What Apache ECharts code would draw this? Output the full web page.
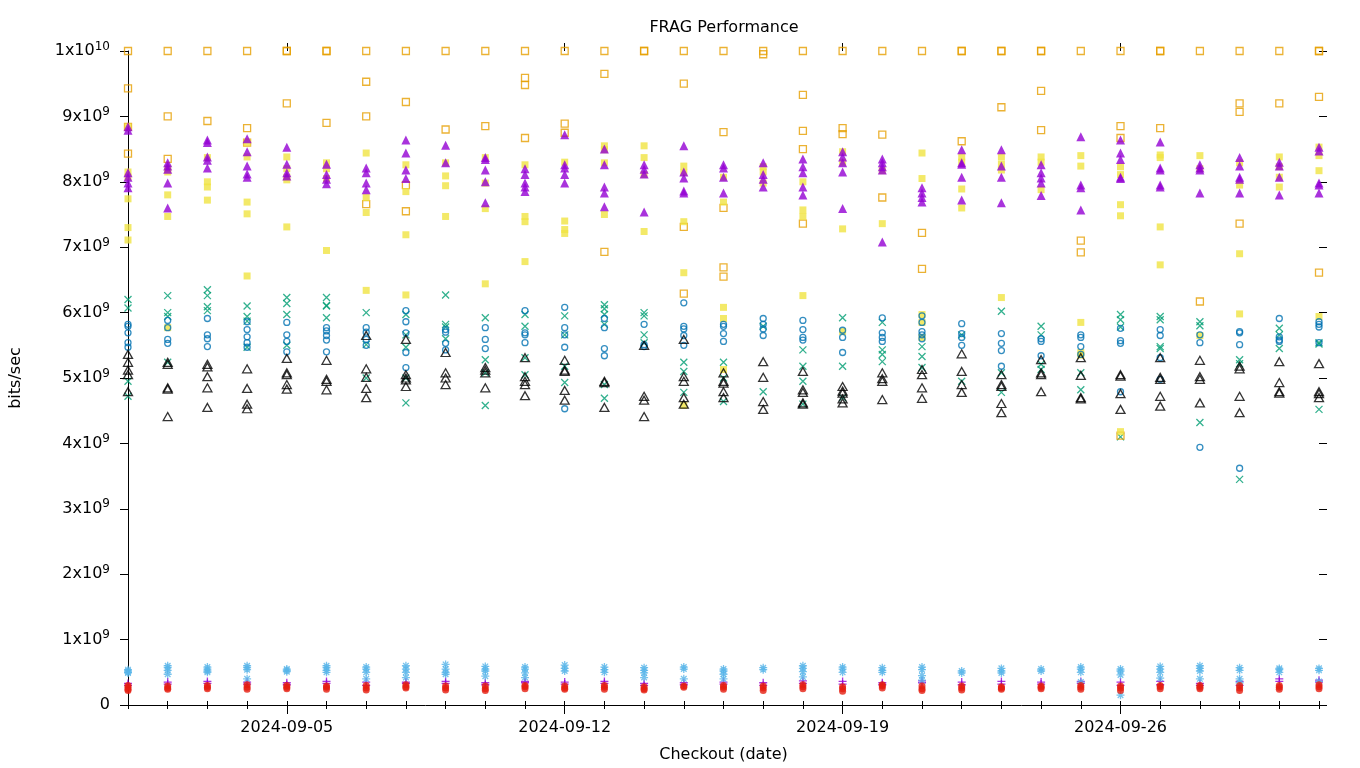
<!DOCTYPE html>
<html>
<head>
<meta charset="utf-8">
<script src="https://cdn.jsdelivr.net/npm/echarts@6/dist/echarts.min.js"></script>
<style>html,body{margin:0;padding:0;background:#fff}#c{width:1360px;height:768px}</style>
</head>
<body>
<div id="c"></div>
<script>
// x = day index from 2024-09-01 (0) to 2024-10-01 (30); values in units of 1e9 bits/sec
const tickDays = [4, 11, 18, 25];
const tickLabels = ['2024-09-05', '2024-09-12', '2024-09-19', '2024-09-26'];
const yTickValues = [0,1,2,3,4,5,6,7,8,9,10];

// purple "+"
const plusVals = [
[0.33,0.3],[0.35,0.32],[0.36,0.33],[0.35,0.32],[0.34,0.31],[0.36,0.33],[0.35,0.3],[0.35,0.33],[0.36,0.33],[0.34,0.31],
[0.36,0.34],[0.35,0.32],[0.36,0.33],[0.33,0.3],[0.34,0.31],[0.35,0.32],[0.34,0.3],[0.37,0.33],[0.36,0.32],[0.34,0.31],
[0.37,0.34],[0.35,0.31],[0.36,0.32],[0.35,0.32],[0.36,0.33],[0.35,0.3],[0.36,0.31],[0.33,0.3],[0.36,0.3],[0.4,0.36],[0.38,0.35]
];
// green "x"
const crossVals = [
[6.2,6.07,4.95,4.72],[6.26,6.0,5.94,5.24],[6.35,6.26,6.09,6.03],[6.1,5.94,5.87,5.47],[6.23,6.14,5.97,5.5],
[6.23,6.11,6.1,5.92],[6.0,5.51,5.0],[5.97,5.66,5.47,5.0,4.62],[6.27,5.82,5.78,5.6],[5.92,5.28,5.08,4.58],
[5.97,5.79,5.31,5.05],[5.95,5.66,5.18,4.93],[6.12,6.06,5.97,5.82,4.9,4.69],[6.0,5.95,5.66,5.54],[5.24,5.1,4.78],
[5.24,5.0,4.64],[5.79,4.79],[5.43,5.18,4.95,4.6],[5.92,5.18,4.7],[5.85,5.43,5.36,5.25],
[5.48,5.33,5.16],[5.66,4.95],[6.02,5.08,4.78],[5.79,5.66,5.21,5.13],[5.08,4.82],
[5.97,5.89,5.78,4.1],[5.94,5.89,5.48,5.45],[5.86,5.8,4.32],[5.28,5.22,3.45],[5.76,5.66,5.45],[5.54,5.52,4.52]
];
// light blue "*"
const starVals = [
[0.52,0.5,0.54,0.49],[0.6,0.57,0.53,0.47],[0.58,0.55,0.52,0.5],[0.6,0.57,0.54,0.4],[0.55,0.53,0.51],
[0.6,0.57,0.53,0.5],[0.58,0.55,0.5,0.4],[0.6,0.55,0.5,0.42],[0.62,0.55,0.5,0.47],[0.59,0.55,0.52,0.44],
[0.58,0.55,0.49,0.42],[0.61,0.56,0.52],[0.58,0.54,0.5],[0.57,0.53,0.49,0.42],[0.58,0.55,0.4],
[0.55,0.52,0.47,0.4],[0.57,0.54],[0.6,0.56,0.51,0.43],[0.58,0.55,0.5],[0.57,0.53,0.5],
[0.58,0.54,0.45,0.38],[0.52,0.49],[0.56,0.52,0.49],[0.55,0.52],[0.58,0.55,0.5,0.35],
[0.55,0.52,0.46,0.15],[0.59,0.55,0.5,0.41],[0.6,0.56,0.52,0.4],[0.57,0.53,0.4,0.34],[0.56,0.54,0.5],[0.56,0.53,0.36]
];
// orange open squares
const openSqVals = [
[10,9.43,8.84,8.43],[10,9.0,8.35],[10,8.93],[10,8.82,8.6],[10,10,9.2],
[10,10,8.9],[10,9.53,9.0,7.66],[10,9.22,7.95,7.55],[10,8.8],[10,8.85],
[10,9.59,9.48,8.67],[10,8.89,8.75],[10,9.65,6.93],[10,10],[10,9.5,7.31,6.29],
[10,8.76,7.6,6.69,6.55],[10,9.95],[10,9.33,8.78,8.5,7.36],[10,8.82,8.73],[10,8.72,7.76],
[10,7.22,6.67],[10,10,8.62],[10,10,9.14],[10,10,9.39,8.79],[10,7.1,6.92],
[10,8.85,8.67,4.12],[10,10,8.82],[10,6.17],[10,9.2,9.07,7.36],[10,9.2],[10,10,9.3,6.61]
];
// yellow filled squares
const fillSqVals = [
[8.84,8.15,8.07,7.74,7.3,7.11],[8.2,8.15,7.8,7.47,5.77],[8.37,8.0,7.92,7.72],[8.6,8.38,7.69,7.51,6.56],[8.38,8.2,8.07,8.03,7.31],
[8.29,8.2,8.05,6.95],[8.44,7.76,7.53,6.34],[8.26,7.85,7.19,6.27],[8.29,8.09,7.94,7.47],[8.37,7.98,7.59,6.44],
[8.26,7.47,7.39,6.78],[8.3,7.4,7.27,7.21],[8.55,8.49,8.29,7.5],[8.55,8.37,8.11,7.24],[8.24,8.14,7.39,6.61,4.58],
[8.07,7.69,6.08,5.91,5.13],[8.23,8.15,7.98],[8.0,7.57,7.47,6.26],[8.46,8.3,7.28,5.71],[8.17,7.36],
[8.44,8.05,5.97,5.85,5.62],[8.38,8.3,7.89,7.6],[8.38,8.27,8.18,6.23],[8.38,8.3,7.88],[8.4,8.24,5.85,5.39,5.35],
[8.23,8.11,7.65,7.48,4.18],[8.41,8.37,7.31,6.73],[8.4,8.2,5.65],[8.29,7.95,6.9,5.98],[8.38,8.23,8.07,7.92],[8.53,8.4,8.17,5.94]
];
// blue open circles
const openCircVals = [
[5.82,5.79,5.69,5.54,5.47],[5.88,5.77,5.59,5.53],[5.91,5.66,5.6,5.48],[5.86,5.74,5.63,5.54,5.47],[5.85,5.66,5.56,5.4],
[5.77,5.72,5.65,5.58,5.4],[5.77,5.7,5.59,5.5],[6.03,5.86,5.69,5.39,5.16],[5.74,5.7,5.53,5.43],[5.77,5.59,5.45],
[6.03,5.69,5.66,5.54],[6.08,5.77,5.66,5.47,4.53],[5.91,5.77,5.45,5.34],[5.82,5.51,5.48],[6.15,5.79,5.75,5.65,5.5],
[5.82,5.79,5.68,5.56],[5.91,5.82,5.75,5.65],[5.88,5.74,5.62,5.58],[5.73,5.62,5.39],[5.92,5.69,5.62,5.56],
[5.95,5.85,5.71,5.66,5.6],[5.83,5.68,5.62,5.5],[5.68,5.53,5.42,5.18],[5.6,5.56,5.34],[5.66,5.62,5.48,5.36],
[5.76,5.57,5.53,4.79],[5.74,5.65,5.31,4.98],[5.66,5.54,3.94],[5.71,5.69,5.51,3.62],[5.91,5.63,5.58,5.56],[5.86,5.82,5.78,5.54]
];
// red filled circles
const fillCircVals = [
[0.3,0.27,0.24,0.22],[0.29,0.26,0.24],[0.3,0.27,0.25],[0.31,0.27,0.24],[0.3,0.27,0.25],
[0.29,0.27,0.24],[0.3,0.26,0.23],[0.31,0.28,0.26],[0.29,0.26,0.23],[0.29,0.25,0.22],
[0.3,0.28,0.25],[0.29,0.26,0.24],[0.3,0.27,0.24],[0.28,0.25,0.23],[0.29,0.27],
[0.3,0.27,0.24],[0.29,0.26,0.22],[0.31,0.28,0.25],[0.28,0.25,0.21],[0.31,0.29,0.26],
[0.29,0.25,0.22],[0.29,0.26,0.23],[0.28,0.26,0.24],[0.29,0.27,0.25],[0.3,0.27,0.24],
[0.29,0.26,0.22],[0.3,0.28,0.25],[0.3,0.27,0.25],[0.3,0.26,0.22],[0.3,0.27,0.24],[0.31,0.28,0.25]
];
// black open triangles
const openTriVals = [
[5.36,5.24,5.12,5.05,4.79],[5.24,5.21,4.85,4.83,4.41],[5.21,5.17,5.02,4.85,4.55],[5.14,4.84,4.6,4.53],[5.3,5.08,5.05,4.9,4.83],
[5.27,4.98,4.95,4.82],[5.65,5.14,5.01,4.84,4.7],[5.59,5.05,5.0,4.97,4.87],[5.39,5.08,5.0,4.9],[5.16,5.12,5.08,4.85],
[5.31,5.02,4.95,4.9,4.73],[5.27,5.12,5.1,4.81,4.66],[4.95,4.93,4.55],[5.5,4.72,4.66,4.41],[5.59,5.02,4.95,4.7,4.6],
[5.08,4.95,4.92,4.79,4.7],[5.25,5.01,4.64,4.52],[5.1,4.82,4.78,4.62,4.6],[4.87,4.8,4.77,4.68,4.62],[5.08,4.99,4.95,4.67],
[5.13,5.05,4.85,4.69],[5.37,5.1,4.9,4.78],[5.05,4.9,4.87,4.61,4.47],[5.28,5.08,5.05,4.79],[5.31,5.04,4.7,4.68],
[5.05,5.03,4.76,4.52],[5.31,5.01,4.98,4.72,4.57],[5.27,5.02,4.98,4.62],[5.18,5.14,4.72,4.47],[5.25,4.93,4.79,4.77],[5.22,4.79,4.76,4.7]
];
// purple filled triangles
const fillTriVals = [
[8.84,8.79,8.14,8.07,7.98,7.91],[8.29,8.24,8.19,7.98,7.6],[8.64,8.6,8.38,8.33,8.21],[8.66,8.46,8.24,8.12,8.07],[8.53,8.27,8.14,8.09],
[8.27,8.11,8.04,7.97],[8.21,8.14,7.98,7.88],[8.64,8.44,8.18,8.05],[8.56,8.29],[8.37,8.34,8.18,8.0,7.68],
[8.2,8.11,7.98,7.92,7.85],[8.72,8.26,8.21,8.11,7.98],[8.5,8.26,7.92,7.83,7.62],[8.26,8.19,8.12,7.54],[8.55,8.15,8.06,7.86,7.83],
[8.26,8.21,8.07,7.83],[8.29,8.11,8.04,7.92],[8.35,8.23,8.14,7.92,7.8],[8.46,8.38,8.29,8.15,7.59],[8.35,8.29,8.23,8.18,7.08],
[7.91,7.83,7.76,7.69],[8.49,8.29,8.27,8.07,7.72],[8.49,8.24,8.07,7.68],[8.26,8.14,8.06,7.98,7.79],[8.69,7.95,7.91,7.57],
[8.64,8.44,8.34,8.07,8.05],[8.61,8.21,8.18,7.95,7.92],[8.26,8.21,8.18,7.83],[8.37,8.24,8.07,8.04,7.83],[8.3,8.24,8.07,7.8],[8.53,8.47,7.98,7.95,7.83]
];

function flatten(vals) {
  const out = [];
  vals.forEach((arr, d) => arr.forEach(v => out.push([d, v])));
  return out;
}
const allDays = []; for (let i = 0; i <= 30; i++) allDays.push(i);

const FONT = 'DejaVu Sans';
const PLUS = 'path://M0,5L10,5M5,0L5,10';
const CROSS = 'path://M0,0L10,10M10,0L0,10';
const STAR = 'path://M0,5L10,5M5,0L5,10M1.5,1.5L8.5,8.5M8.5,1.5L1.5,8.5';

function sc(name, vals, symbol, size, color, filled) {
  return {
    name, type: 'scatter', xAxisIndex: 0, yAxisIndex: 0,
    data: flatten(vals), symbol, symbolSize: size, animation: false, silent: true,
    itemStyle: filled ? { color, borderWidth: 0 } : { color: 'rgba(0,0,0,0)', borderColor: color, borderWidth: 1.3 }
  };
}

const chart = echarts.init(document.getElementById('c'), null, { renderer: 'canvas' });
const gridRect = { left: 128, right: 41, top: 51, bottom: 62 };
chart.setOption({
  animation: false,
  backgroundColor: '#ffffff',
  title: { text: 'FRAG Performance', left: 719, top: 15, textAlign: 'center',
           textStyle: { fontFamily: FONT, fontSize: 16, fontWeight: 'normal', color: '#000' } },
  grid: [ Object.assign({}, gridRect), Object.assign({}, gridRect) ],
  xAxis: [
    { gridIndex: 0, type: 'value', position: 'bottom', min: 0, max: 30,
      name: 'Checkout (date)', nameLocation: 'middle', nameGap: 42,
      nameTextStyle: { fontFamily: FONT, fontSize: 16, color: '#000' },
      axisLine: { show: true, onZero: false, lineStyle: { color: '#000', width: 1 } },
      axisTick: { show: true, length: 4, customValues: allDays, lineStyle: { color: '#000' } },
      axisLabel: { show: true, customValues: tickDays, margin: 15, fontFamily: FONT, fontSize: 16, color: '#000',
                   formatter: v => tickLabels[tickDays.indexOf(Math.round(v))] || '' },
      splitLine: { show: false } },
    { gridIndex: 0, type: 'value', position: 'top', min: 0, max: 30,
      axisLine: { show: false }, axisTick: { show: true, length: 4, customValues: allDays, lineStyle: { color: '#000' } },
      axisLabel: { show: false }, splitLine: { show: false } },
    { gridIndex: 1, type: 'value', position: 'bottom', min: 0, max: 30,
      axisLine: { show: false, onZero: false }, axisTick: { show: true, length: 8, customValues: tickDays, lineStyle: { color: '#000' } },
      axisLabel: { show: false }, splitLine: { show: false } },
    { gridIndex: 1, type: 'value', position: 'top', min: 0, max: 30,
      axisLine: { show: false, onZero: false }, axisTick: { show: true, length: 8, customValues: tickDays, lineStyle: { color: '#000' } },
      axisLabel: { show: false }, splitLine: { show: false } }
  ],
  yAxis: [
    { gridIndex: 0, type: 'value', position: 'left', min: 0, max: 10,
      name: 'bits/sec', nameLocation: 'middle', nameGap: 104, nameRotate: 90,
      nameTextStyle: { fontFamily: FONT, fontSize: 16, color: '#000' },
      axisLine: { show: true, onZero: false, lineStyle: { color: '#000', width: 1 } },
      axisTick: { show: true, length: 8, customValues: yTickValues, lineStyle: { color: '#000' } },
      axisLabel: { show: true, customValues: yTickValues, margin: 18, fontFamily: FONT, fontSize: 16, color: '#000',
        formatter: v => v === 0 ? '0' : (v === 10 ? '1x10{s|10}' : v + 'x10{s|9}'),
        rich: { s: { fontFamily: FONT, fontSize: 12, color: '#000', padding: [0, 0, 9, 0] } } },
      splitLine: { show: false } },
    { gridIndex: 0, type: 'value', position: 'right', min: 0, max: 10,
      axisLine: { show: false, onZero: false },
      axisTick: { show: true, length: 8, customValues: yTickValues, lineStyle: { color: '#000' } },
      axisLabel: { show: false }, splitLine: { show: false } },
    { gridIndex: 1, type: 'value', min: 0, max: 10, show: false }
  ],
  series: [
    sc('frag-1', plusVals, PLUS, 8, '#9400d3', false),
    sc('frag-2', crossVals, CROSS, 7, '#009e73', false),
    sc('frag-3', starVals, STAR, 8, '#56b4e9', false),
    sc('frag-4', openSqVals, 'rect', 7, '#e69f00', false),
    sc('frag-5', fillSqVals, 'rect', 7, '#f0e442', true),
    sc('frag-6', openCircVals, 'circle', 6, '#0072b2', false),
    sc('frag-7', fillCircVals, 'circle', 7, '#e51e10', true),
    sc('frag-8', openTriVals, 'triangle', [9, 8], '#000000', false),
    sc('frag-9', fillTriVals, 'triangle', [9, 9], '#9400d3', true)
  ]
});
</script>
</body>
</html>
